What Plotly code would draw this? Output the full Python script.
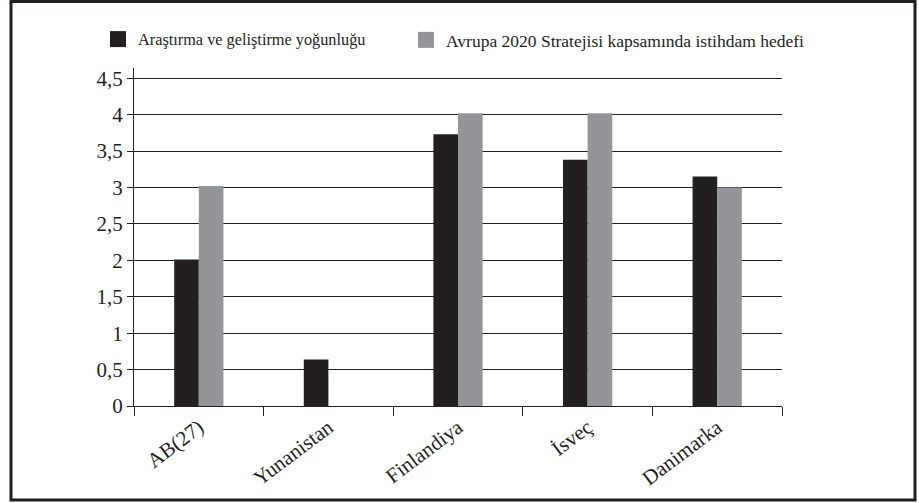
import plotly.graph_objects as go

categories = ["AB(27)", "Yunanistan", "Finlandiya", "İsveç", "Danimarka"]
series_names = ["Araştırma ve geliştirme yoğunluğu",
                "Avrupa 2020 Stratejisi kapsamında istihdam hedefi"]
rd_intensity = [2.01, 0.64, 3.73, 3.38, 3.15]
employment_target = [3.02, None, 4.02, 4.02, 3.0]
y_ticks = [0, 0.5, 1, 1.5, 2, 2.5, 3, 3.5, 4, 4.5]

W, H = 919, 503
L, R, T, B = 134, 137, 68, 97
colors = ["#231f20", "#939598"]
serif = "Liberation Serif"
legend_ids = ["legend", "legend2"]
legend_x_px = [98, 406]
legend_font_sizes = [16.3, 17.5]

fig = go.Figure()
for name, vals, col in zip(series_names, [rd_intensity, employment_target], colors):
    fig.add_trace(go.Bar(x=categories, y=vals, name=name, marker_color=col,
                         marker_line_width=0, showlegend=False, hoverinfo="skip"))
for name, col, lid in zip(series_names, colors, legend_ids):
    fig.add_trace(go.Scatter(x=[None], y=[None], mode="markers", name=name,
                             marker=dict(symbol="square", size=16, color=col),
                             legend=lid, hoverinfo="skip"))

pw = W - L - R
ph = H - T - B
def px_x(x):
    return (x - L) / pw
def px_y(y):
    return 1 - (y - T) / ph

fig.add_shape(type="rect", xref="paper", yref="paper",
              x0=px_x(11), x1=px_x(915), y0=px_y(500), y1=px_y(1.5),
              line=dict(color="#231f20", width=3), fillcolor="rgba(0,0,0,0)")

def legend_style(xpx, fsize):
    return dict(orientation="h", xref="container", yref="container",
                x=xpx / W, y=1 - 22 / H, xanchor="left", yanchor="top",
                font=dict(family=serif, size=fsize, color="#231f20"),
                bgcolor="rgba(0,0,0,0)")

fig.update_layout(
    width=W, height=H,
    margin=dict(l=L, r=R, t=T, b=B, autoexpand=False),
    paper_bgcolor="white", plot_bgcolor="white",
    barmode="group", bargap=0.62, bargroupgap=0,
    separators=", ",
    font=dict(family=serif, color="#231f20"),
    legend=legend_style(legend_x_px[0], legend_font_sizes[0]),
    legend2=legend_style(legend_x_px[1], legend_font_sizes[1]),
    xaxis=dict(type="category", showline=True, linecolor="#231f20", linewidth=1,
               ticks="outside", tickson="boundaries", ticklen=9, tickcolor="#231f20",
               tickangle=-37, tickfont=dict(family=serif, size=21, color="#231f20"),
               showgrid=False),
    yaxis=dict(range=[0, 4.64], tickvals=y_ticks, showline=True, linecolor="#231f20",
               linewidth=1, ticks="outside", ticklen=6, tickcolor="#231f20",
               showgrid=True, gridcolor="#231f20", gridwidth=1.2, zeroline=False,
               tickfont=dict(family=serif, size=21, color="#231f20")),
)

fig.write_html("out.html", config={"displayModeBar": False},
               post_script="document.body.style.margin='0px';")
